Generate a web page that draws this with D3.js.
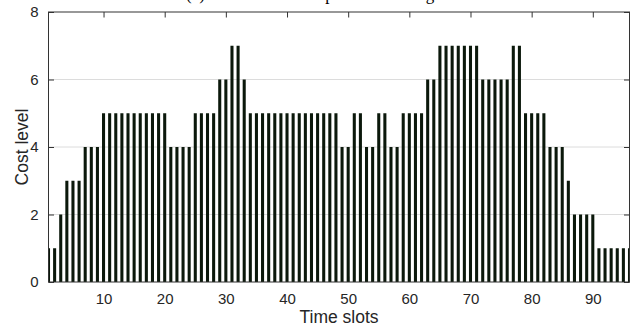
<!DOCTYPE html>
<html>
<head>
<meta charset="utf-8">
<script src="https://cdn.jsdelivr.net/npm/d3@7"></script>
<style>
  body { margin: 0; background: #fff; }
  svg { display: block; }
</style>
</head>
<body>
<svg id="chart"></svg>
<script>
// cost level of every time slot (96 slots)
const costLevels = [
  1, 1, 2, 3, 3, 3, 4, 4, 4, 5,
  5, 5, 5, 5, 5, 5, 5, 5, 5, 5,
  4, 4, 4, 4, 5, 5, 5, 5, 6, 6,
  7, 7, 6, 5, 5, 5, 5, 5, 5, 5,
  5, 5, 5, 5, 5, 5, 5, 5, 4, 4,
  5, 5, 4, 4, 5, 5, 4, 4, 5, 5,
  5, 5, 6, 6, 7, 7, 7, 7, 7, 7,
  7, 6, 6, 6, 6, 6, 7, 7, 5, 5,
  5, 5, 4, 4, 4, 3, 2, 2, 2, 2,
  1, 1, 1, 1, 1, 1
];
const slots = d3.range(1, costLevels.length + 1);
const xTicks = [10, 20, 30, 40, 50, 60, 70, 80, 90];
const yTicks = [0, 2, 4, 6, 8];
const titleText = '(c) Cost level of the price from the grid';

const W = 637, H = 329;
const margin = { top: 12, right: 7.5, bottom: 47, left: 48.5 };
const tickLen = 5.5;

const svg = d3.select('#chart').attr('width', W).attr('height', H);

const x = d3.scaleLinear().domain([1, 96]).range([margin.left, W - margin.right]);
const y = d3.scaleLinear().domain([0, 8]).range([H - margin.bottom, margin.top]);

// grid
svg.append('g')
  .selectAll('line')
  .data(yTicks.filter(d => d > 0 && d < 8))
  .enter()
  .append('line')
  .attr('x1', x.range()[0]).attr('x2', x.range()[1])
  .attr('y1', d => y(d)).attr('y2', d => y(d))
  .attr('stroke', '#dcdcdc')
  .attr('stroke-width', 1);

// ticks, inward, on all four sides
const axisColor = '#333';
const axisG = svg.append('g').attr('font-family', 'Liberation Sans, Arial, sans-serif');

axisG.append('g')
  .attr('transform', `translate(0,${y(0)})`)
  .call(d3.axisBottom(x).tickValues(xTicks).tickSize(-tickLen).tickPadding(11).tickSizeOuter(0))
  .call(g => g.select('.domain').remove());

axisG.append('g')
  .attr('transform', `translate(0,${y(8)})`)
  .call(d3.axisTop(x).tickValues(xTicks).tickSize(-tickLen).tickFormat('').tickSizeOuter(0))
  .call(g => g.select('.domain').remove());

axisG.append('g')
  .attr('transform', `translate(${x(1)},0)`)
  .call(d3.axisLeft(y).tickValues(yTicks).tickSize(-tickLen).tickPadding(10).tickSizeOuter(0))
  .call(g => g.select('.domain').remove());

axisG.append('g')
  .attr('transform', `translate(${x(96)},0)`)
  .call(d3.axisRight(y).tickValues(yTicks).tickSize(-tickLen).tickFormat('').tickSizeOuter(0))
  .call(g => g.select('.domain').remove());

axisG.selectAll('.tick line').attr('stroke', axisColor);
axisG.selectAll('.tick text').attr('fill', '#262626').attr('font-size', 15);

// bars
svg.append('clipPath').attr('id', 'plotClip')
  .append('rect')
  .attr('x', x(1)).attr('y', y(8))
  .attr('width', x(96) - x(1)).attr('height', y(0) - y(8));

const barW = x(1.5) - x(1);
svg.append('g')
  .attr('clip-path', 'url(#plotClip)')
  .selectAll('rect')
  .data(slots)
  .enter()
  .append('rect')
  .attr('x', d => x(d) - barW / 2)
  .attr('y', (d, i) => y(costLevels[i]))
  .attr('width', barW)
  .attr('height', (d, i) => y(0) - y(costLevels[i]))
  .attr('fill', '#0b180b');

// box
svg.append('rect')
  .attr('x', x(1)).attr('y', y(8))
  .attr('width', x(96) - x(1)).attr('height', y(0) - y(8))
  .attr('fill', 'none')
  .attr('stroke', axisColor)
  .attr('stroke-width', 1);

// axis labels
svg.append('text')
  .attr('x', (x(1) + x(96)) / 2)
  .attr('y', 323)
  .attr('text-anchor', 'middle')
  .attr('font-family', 'Liberation Sans, Arial, sans-serif')
  .attr('font-size', 17.5)
  .attr('fill', '#262626')
  .text('Time slots');

svg.append('text')
  .attr('transform', `translate(28,${(y(0) + y(8)) / 2}) rotate(-90)`)
  .attr('text-anchor', 'middle')
  .attr('font-family', 'Liberation Sans, Arial, sans-serif')
  .attr('font-size', 17.5)
  .attr('fill', '#262626')
  .text('Cost level');

// title, mostly cut off at the top edge
svg.append('text')
  .attr('x', 186)
  .attr('y', 0)
  .attr('font-family', 'Liberation Serif, Times New Roman, serif')
  .attr('font-size', 17)
  .attr('fill', '#000')
  .text(titleText);
</script>
</body>
</html>
